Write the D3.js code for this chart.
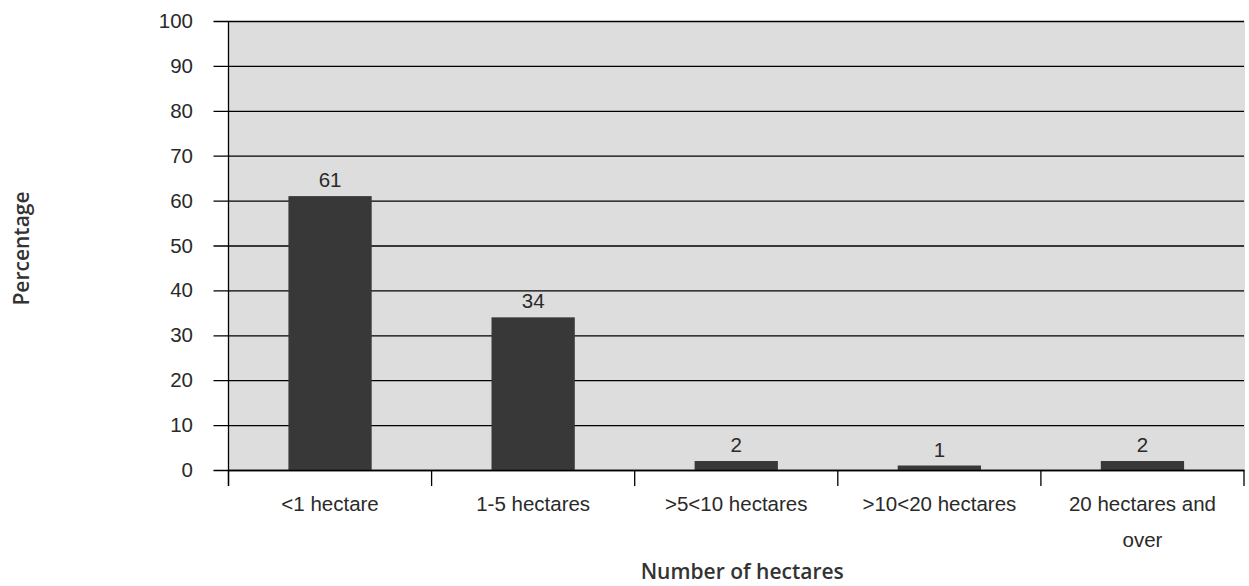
<!DOCTYPE html>
<html>
<head>
<meta charset="utf-8">
<script src="https://cdn.jsdelivr.net/npm/d3@7"></script>
<style>
  body { margin: 0; background: #fff; }
  svg { display: block; }
</style>
</head>
<body>
<svg id="chart" width="1249" height="586"></svg>
<script>
// Farm size distribution
const categories = ["<1 hectare", "1-5 hectares", ">5<10 hectares", ">10<20 hectares", "20 hectares and over"];
const values = [61, 34, 2, 1, 2];
const yTicks = [0, 10, 20, 30, 40, 50, 60, 70, 80, 90, 100];

const svg = d3.select("#chart");
const margin = { left: 228.5, right: 1244, top: 21, bottom: 470 };
const font = "'Liberation Sans', Arial, sans-serif";
const fontSize = 20.5;
const textColor = "#2a2a2a";

const x = d3.scaleBand().domain(categories).range([margin.left, margin.right]).paddingInner(0).paddingOuter(0);
const y = d3.scaleLinear().domain([0, 100]).range([margin.bottom, margin.top]);

// Plot background
svg.append("rect")
  .attr("x", margin.left).attr("y", margin.top)
  .attr("width", margin.right - margin.left + 1)
  .attr("height", margin.bottom - margin.top)
  .attr("fill", "#dddddd");

// Gridlines with left tick marks
const yAxis = d3.axisLeft(y).tickValues(yTicks).tickSize(-(margin.right - margin.left)).tickSizeOuter(0);
const gy = svg.append("g").attr("transform", `translate(${margin.left},0)`).call(yAxis);
gy.select(".domain").remove();
gy.selectAll(".tick line").attr("x1", -15).attr("stroke", "#000").attr("stroke-width", 1.3);
gy.selectAll(".tick text")
  .attr("x", -35.5)
  .attr("font-family", font).attr("font-size", fontSize).attr("fill", textColor);

// Bars
const barW = x.bandwidth() * 0.41;
svg.append("g").selectAll("rect")
  .data(values)
  .join("rect")
  .attr("x", (d, i) => x(categories[i]) + (x.bandwidth() - barW) / 2)
  .attr("y", d => y(d))
  .attr("width", barW)
  .attr("height", d => y(0) - y(d))
  .attr("fill", "#383838");

// Value labels
svg.append("g").selectAll("text")
  .data(values)
  .join("text")
  .attr("x", (d, i) => x(categories[i]) + x.bandwidth() / 2)
  .attr("y", d => y(d) - 9)
  .attr("text-anchor", "middle")
  .attr("font-family", font).attr("font-size", fontSize).attr("fill", textColor)
  .text(d => d);

// Y axis line
svg.append("line")
  .attr("x1", margin.left).attr("x2", margin.left)
  .attr("y1", margin.top).attr("y2", margin.bottom + 16)
  .attr("stroke", "#000").attr("stroke-width", 1.3);

// X axis with category separators
const xAxis = d3.axisBottom(x).tickSize(0).tickSizeOuter(0);
const gx = svg.append("g").attr("transform", `translate(0,${margin.bottom})`).call(xAxis);
gx.select(".domain").attr("stroke", "#000").attr("stroke-width", 1.3);
gx.selectAll(".tick text").remove();

const bounds = categories.map(c => x(c)).concat([x(categories[categories.length - 1]) + x.bandwidth()]);
svg.append("g").selectAll("line")
  .data(bounds)
  .join("line")
  .attr("x1", d => d).attr("x2", d => d)
  .attr("y1", margin.bottom).attr("y2", margin.bottom + 16)
  .attr("stroke", "#000").attr("stroke-width", 1.3);

// Category labels, wrapped where too wide
const wrapWidth = 185;
const labelG = svg.append("g");
categories.forEach(c => {
  const cx = x(c) + x.bandwidth() / 2;
  const t = labelG.append("text")
    .attr("x", cx)
    .attr("y", 511)
    .attr("text-anchor", "middle")
    .attr("font-family", font).attr("font-size", fontSize).attr("fill", textColor);
  const words = c.split(" ");
  let line = [];
  let tspan = t.append("tspan").attr("x", cx).attr("dy", 0);
  words.forEach(w => {
    line.push(w);
    tspan.text(line.join(" "));
    if (tspan.node().getComputedTextLength() > wrapWidth && line.length > 1) {
      line.pop();
      tspan.text(line.join(" "));
      line = [w];
      tspan = t.append("tspan").attr("x", cx).attr("dy", 36).text(w);
    }
  });
});

// Axis titles
svg.append("text")
  .attr("transform", `translate(29,${(margin.top + margin.bottom) / 2 + 3}) rotate(-90)`)
  .attr("text-anchor", "middle")
  .attr("font-family", "'Open Sans', sans-serif").attr("font-weight", 600)
  .attr("font-size", 21).attr("fill", "#333")
  .text("Percentage");

svg.append("text")
  .attr("x", (margin.left + margin.right) / 2 + 6)
  .attr("y", 579)
  .attr("text-anchor", "middle")
  .attr("font-family", "'Open Sans', sans-serif").attr("font-weight", 600)
  .attr("font-size", 21).attr("fill", "#333")
  .text("Number of hectares");
</script>
</body>
</html>
